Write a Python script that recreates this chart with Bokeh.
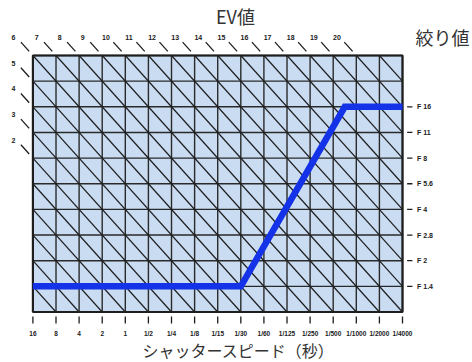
from bokeh.plotting import figure
from bokeh.models import Range1d
from bokeh.core.properties import value
from bokeh.embed import file_html
from bokeh.resources import INLINE

# ---- data ----
shutter_labels = ["16", "8", "4", "2", "1", "1/2", "1/4", "1/8", "1/15", "1/30",
                  "1/60", "1/125", "1/250", "1/500", "1/1000", "1/2000", "1/4000"]
fstop_labels = ["F 1.4", "F 2", "F 2.8", "F 4", "F 5.6", "F 8", "F 11", "F 16"]
ev_values = [2, 3, 4, 5, 6, 7, 8, 9, 10, 11, 12, 13, 14, 15, 16, 17, 18, 19, 20]
program_shutter = [0, 9, 13.5, 16]   # shutter-speed stop index
program_fstop = [0, 0, 7, 7]         # f-stop index (F1.4 = 0)

n_cols = len(shutter_labels) - 1     # 16
y_bot, y_top = -1, 9                 # grid rows
ev_top_left = 6                      # EV of diagonal through top-left corner

CJK = "Noto Sans CJK JP"
TICKF = "Liberation Sans"
INK = "#1e1e1e"
ROW = 25.65                          # px per row (for small offsets below grid)

p = figure(width=472, height=362, output_backend="svg", toolbar_location=None,
           x_range=Range1d(-1.403, 19.03), y_range=Range1d(-2.969, 11.144),
           x_axis_location=None, y_axis_location=None,
           min_border=0)
p.grid.visible = False
p.outline_line_color = None
p.background_fill_color = "white"
p.border_fill_color = "white"

# background cell area
p.quad(left=[0], right=[n_cols], bottom=[y_bot], top=[y_top],
       fill_color="#c9dcf2", line_color=None)

# grid lines
vx = list(range(0, n_cols + 1))
p.segment(x0=vx, y0=[y_bot] * len(vx), x1=vx, y1=[y_top] * len(vx),
          line_color="#2a2a2a", line_width=1.4)
hy = list(range(y_bot, y_top + 1))
p.segment(x0=[0] * len(hy), y0=hy, x1=[n_cols] * len(hy), y1=hy,
          line_color="#2a2a2a", line_width=1.4)

# EV diagonals
dx0, dy0, dx1, dy1 = [], [], [], []
for k in range(-(y_top - y_bot) + 1, n_cols):
    xa = max(0, k)
    xb = min(n_cols, k + (y_top - y_bot))
    dx0.append(xa); dy0.append(y_top - (xa - k))
    dx1.append(xb); dy1.append(y_top - (xb - k))
p.segment(x0=dx0, y0=dy0, x1=dx1, y1=dy1, line_color=INK, line_width=1.2)

# EV labels and stubs
lx, ly, lt, sx0, sy0, sx1, sy1 = [], [], [], [], [], [], []
for ev in ev_values:
    k = ev - ev_top_left
    ex = max(k, 0)
    ey = y_top + min(k, 0)
    lx.append(ex - 0.84); ly.append(ey + 0.70); lt.append(str(ev))
    sx0.append(ex - 0.52); sy0.append(ey + 0.52)
    sx1.append(ex - 0.16); sy1.append(ey + 0.16)
p.segment(x0=sx0, y0=sy0, x1=sx1, y1=sy1, line_color=INK, line_width=1.3)
p.text(x=lx, y=ly, text=lt, text_align="center", text_baseline="middle",
       text_font=value(TICKF), text_font_size="7px", text_font_style="bold",
       text_color="#1a1a1a")

# border
p.quad(left=[0], right=[n_cols], bottom=[y_bot], top=[y_top],
       fill_color=None, line_color=INK, line_width=2.2)

# program line
p.line(x=program_shutter, y=program_fstop, line_color="#1432e8", line_width=6.5,
       line_join="miter")

# f-stop scale on the right
fy = list(range(len(fstop_labels)))
p.segment(x0=[n_cols + 0.2] * len(fy), y0=fy, x1=[n_cols + 0.43] * len(fy), y1=fy,
          line_color=INK, line_width=1.3)
p.text(x=[n_cols + 0.63] * len(fy), y=fy, text=fstop_labels, text_align="left",
       text_baseline="middle", text_font=value(TICKF), text_font_size="7px",
       text_font_style="bold", text_color="#1a1a1a")

# shutter-speed scale below
sx = list(range(len(shutter_labels)))
p.segment(x0=sx, y0=[y_bot - 4.5 / ROW] * len(sx), x1=sx, y1=[y_bot - 11.5 / ROW] * len(sx),
          line_color=INK, line_width=1.3)
p.text(x=sx, y=[y_bot - 21.5 / ROW] * len(sx), text=shutter_labels, text_align="center",
       text_baseline="middle", text_font=value(TICKF), text_font_size="6.5px",
       text_font_style="bold", text_color="#1a1a1a")

# titles
p.text(x=[8.77], y=[10.55], text=["EV値"], text_align="center",
       text_baseline="middle", text_font=value(CJK), text_font_size="18px",
       text_color="#333333")
p.text(x=[17.73], y=[9.74], text=["絞り値"], text_align="center",
       text_baseline="middle", text_font=value(CJK), text_font_size="18px",
       text_color="#333333")
p.text(x=[8.9], y=[y_bot - 38.5 / ROW], text=["シャッタースピード（秒）"], text_align="center",
       text_baseline="middle", text_font=value(CJK), text_font_size="16px",
       text_color="#333333")

open("out.html", "w").write(file_html(p, INLINE))
